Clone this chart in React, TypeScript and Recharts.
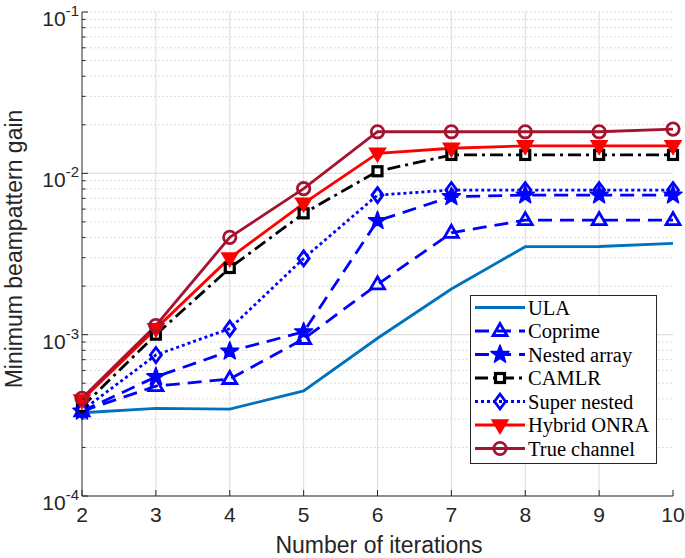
import React from 'react';
import {
  LineChart,
  Line,
  XAxis,
  YAxis,
  CartesianGrid,
  ReferenceLine,
  Legend,
  Label,
} from 'recharts';

// iterations on the x axis
const iterations = [2, 3, 4, 5, 6, 7, 8, 9, 10];

// minimum beampattern gain per scheme
const ula = [0.000328, 0.000349, 0.000346, 0.000448, 0.00095, 0.00192, 0.00351, 0.00352, 0.00368];
const coprime = [0.000335, 0.00048, 0.000531, 0.00094, 0.00205, 0.00428, 0.00513, 0.00513, 0.00513];
const nestedArray = [0.000335, 0.000548, 0.00079, 0.00104, 0.00508, 0.00716, 0.00733, 0.00733, 0.00733];
const camlr = [0.000357, 0.001, 0.00259, 0.00565, 0.0103, 0.013, 0.013, 0.013, 0.013];
const superNested = [0.000339, 0.000748, 0.00109, 0.00297, 0.00733, 0.00788, 0.00788, 0.00788, 0.00788];
const hybridOnra = [0.000393, 0.00109, 0.00299, 0.00652, 0.0133, 0.0143, 0.0148, 0.0148, 0.0148];
const trueChannel = [0.000403, 0.00114, 0.00401, 0.00803, 0.0181, 0.0181, 0.0181, 0.0181, 0.0188];

// axis ticks
const xTicks = [2, 3, 4, 5, 6, 7, 8, 9, 10];
const decades = [1e-4, 1e-3, 1e-2, 1e-1];
const minorSteps = [2, 3, 4, 5, 6, 7, 8, 9];

const yTicks: number[] = [];
decades.forEach((d, i) => {
  yTicks.push(d);
  if (i < decades.length - 1) minorSteps.forEach((m) => yTicks.push(d * m));
});

const rows = iterations.map((it, i) => ({
  it,
  ula: ula[i],
  coprime: coprime[i],
  nested: nestedArray[i],
  camlr: camlr[i],
  superNested: superNested[i],
  hybrid: hybridOnra[i],
  trueCh: trueChannel[i],
}));

const AXIS = '#262626';
const SANS = '"Liberation Sans", Arial, Helvetica, sans-serif';
const SERIF = '"Liberation Serif", "Times New Roman", serif';
const BLUE = '#0000ff';
const LW = 2.8;

// ---- markers ----
const triUp = (cx: number, cy: number, c: string) => (
  <polygon
    points={`${cx},${cy - 7.5} ${cx - 7},${cy + 4.5} ${cx + 7},${cy + 4.5}`}
    fill="none"
    stroke={c}
    strokeWidth={2.8}
  />
);

const triDown = (cx: number, cy: number, c: string) => (
  <polygon
    points={`${cx - 8},${cy - 5} ${cx + 8},${cy - 5} ${cx},${cy + 8.5}`}
    fill={c}
    stroke={c}
    strokeWidth={1.5}
  />
);

const star = (cx: number, cy: number, c: string) => {
  const pts: string[] = [];
  for (let k = 0; k < 10; k++) {
    const r = k % 2 === 0 ? 9.5 : 3.9;
    const a = (-90 + k * 36) * (Math.PI / 180);
    pts.push(`${cx + r * Math.cos(a)},${cy + r * Math.sin(a)}`);
  }
  return <polygon points={pts.join(' ')} fill={c} stroke={c} strokeWidth={1.5} strokeLinejoin="round" />;
};

const square = (cx: number, cy: number, c: string) => (
  <rect x={cx - 4.5} y={cy - 4.5} width={9} height={9} fill="#fff" stroke={c} strokeWidth={3.2} />
);

const diamond = (cx: number, cy: number, c: string) => (
  <polygon
    points={`${cx},${cy - 7.5} ${cx + 5.5},${cy} ${cx},${cy + 7.5} ${cx - 5.5},${cy}`}
    fill="none"
    stroke={c}
    strokeWidth={2.8}
  />
);

const circle = (cx: number, cy: number, c: string) => (
  <circle cx={cx} cy={cy} r={6.2} fill="none" stroke={c} strokeWidth={2.8} />
);

type Series = {
  key: string;
  name: string;
  color: string;
  dash?: string;
  marker?: (cx: number, cy: number, c: string) => React.ReactElement;
};

const series: Series[] = [
  { key: 'ula', name: 'ULA', color: '#0072bd' },
  { key: 'coprime', name: 'Coprime', color: BLUE, dash: '14 8', marker: triUp },
  { key: 'nested', name: 'Nested array', color: BLUE, dash: '14 8', marker: star },
  { key: 'camlr', name: 'CAMLR', color: '#000000', dash: '13 5 3 5', marker: square },
  { key: 'superNested', name: 'Super nested', color: BLUE, dash: '3 3', marker: diamond },
  { key: 'hybrid', name: 'Hybrid ONRA', color: '#ff0000', marker: triDown },
  { key: 'trueCh', name: 'True channel', color: '#a2142f', marker: circle },
];

const isDecade = (v: number) => Math.abs(Math.log10(v) - Math.round(Math.log10(v))) < 1e-6;

// ---- ticks (drawn inward, MATLAB style) ----
function YTickLeft({ x, y, payload }: any) {
  const v = payload.value;
  const major = isDecade(v);
  return (
    <g>
      <line x1={x} x2={x + (major ? 6 : 3.5)} y1={y} y2={y} stroke={AXIS} strokeWidth={1} />
      {major && (
        <text x={x - 3} y={y + 14} textAnchor="end" fill={AXIS} fontFamily={SANS} fontSize={21}>
          <tspan>10</tspan>
          <tspan dy={-10} fontSize={15}>{`-${Math.abs(Math.round(Math.log10(v)))}`}</tspan>
        </text>
      )}
    </g>
  );
}

function YTickRight({ x, y, payload }: any) {
  const major = isDecade(payload.value);
  return <line x1={x} x2={x - (major ? 6 : 3.5)} y1={y} y2={y} stroke={AXIS} strokeWidth={1} />;
}

function XTickBottom({ x, y, payload }: any) {
  return (
    <g>
      <line x1={x} x2={x} y1={y} y2={y - 6} stroke={AXIS} strokeWidth={1} />
      <text x={x} y={y + 26} textAnchor="middle" fill={AXIS} fontFamily={SANS} fontSize={21}>
        {payload.value}
      </text>
    </g>
  );
}

function XTickTop({ x, y }: any) {
  return <line x1={x} x2={x} y1={y} y2={y + 6} stroke={AXIS} strokeWidth={1} />;
}

function LegendBox() {
  const w = 187;
  const h = 169;
  return (
    <svg width={w} height={h} style={{ display: 'block' }}>
      <rect x={0.5} y={0.5} width={w - 1} height={h - 1} fill="#fff" stroke={AXIS} strokeWidth={1} />
      {series.map((s, i) => {
        const cy = 12.5 + i * 23.5;
        return (
          <g key={s.key}>
            <line
              x1={5}
              x2={55}
              y1={cy}
              y2={cy}
              stroke={s.color}
              strokeWidth={LW}
              strokeDasharray={s.dash}
            />
            {s.marker && s.marker(30, cy, s.color)}
            <text x={58} y={cy + 7} fontFamily={SERIF} fontSize={20.5} fill="#000">
              {s.name}
            </text>
          </g>
        );
      })}
    </svg>
  );
}

export default function App() {
  return (
    <div style={{ position: 'absolute', left: 0, top: 0, width: 685, height: 558, background: '#fff' }}>
      <LineChart width={685} height={558} data={rows} margin={{ top: 12, right: 12, bottom: 0, left: 0 }}>
        <CartesianGrid vertical={false} stroke="#cfcfcf" strokeDasharray="1.5 2.5" />
        {xTicks.slice(1, -1).map((t) => (
          <ReferenceLine key={`vx${t}`} x={t} stroke="#dcdcdc" strokeWidth={1} />
        ))}
        {decades.slice(1, -1).map((d) => (
          <ReferenceLine key={`hy${d}`} y={d} stroke="#dcdcdc" strokeWidth={1} />
        ))}
        <XAxis
          dataKey="it"
          type="number"
          domain={[2, 10]}
          ticks={xTicks}
          interval={0}
          height={62}
          tickSize={0}
          tickMargin={0}
          tickLine={false}
          axisLine={{ stroke: AXIS }}
          tick={<XTickBottom />}
        >
          <Label
            content={() => (
              <text x={379} y={553} textAnchor="middle" fill={AXIS} fontFamily={SANS} fontSize={23}>
                Number of iterations
              </text>
            )}
          />
        </XAxis>
        <XAxis
          xAxisId="top"
          orientation="top"
          dataKey="it"
          type="number"
          domain={[2, 10]}
          ticks={xTicks}
          interval={0}
          height={0}
          tickSize={0}
          tickMargin={0}
          tickLine={false}
          axisLine={{ stroke: AXIS }}
          tick={<XTickTop />}
        />
        <YAxis
          scale="log"
          type="number"
          domain={[1e-4, 1e-1]}
          allowDataOverflow
          ticks={yTicks}
          interval={0}
          width={82}
          tickSize={0}
          tickMargin={0}
          tickLine={false}
          axisLine={{ stroke: AXIS }}
          tick={<YTickLeft />}
        >
          <Label
            content={() => (
              <text
                x={22}
                y={249}
                transform="rotate(-90, 22, 249)"
                textAnchor="middle"
                fill={AXIS}
                fontFamily={SANS}
                fontSize={23}
              >
                Minimum beampattern gain
              </text>
            )}
          />
        </YAxis>
        <YAxis
          yAxisId="right"
          orientation="right"
          scale="log"
          type="number"
          domain={[1e-4, 1e-1]}
          allowDataOverflow
          ticks={yTicks}
          interval={0}
          width={0}
          tickSize={0}
          tickMargin={0}
          tickLine={false}
          axisLine={{ stroke: AXIS }}
          tick={<YTickRight />}
        />
        {series.map((s) => (
          <Line
            key={s.key}
            type="linear"
            dataKey={s.key}
            name={s.name}
            stroke={s.color}
            strokeWidth={LW}
            strokeDasharray={s.dash}
            isAnimationActive={false}
            activeDot={false}
            dot={
              s.marker
                ? (p: any) => <g key={`${s.key}-${p.index}`}>{s.marker!(p.cx, p.cy, s.color)}</g>
                : false
            }
          />
        ))}
        <Legend
          layout="vertical"
          align="center"
          verticalAlign="middle"
          content={() => <LegendBox />}
          wrapperStyle={{ position: 'absolute', left: 470, top: 295, width: 187, height: 169 }}
        />
      </LineChart>
    </div>
  );
}
